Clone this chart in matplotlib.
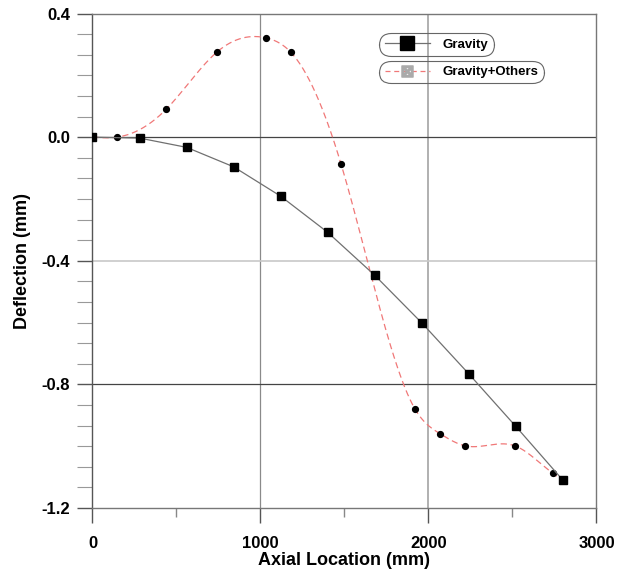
import numpy as np
import matplotlib
matplotlib.use('Agg')
import matplotlib.pyplot as plt
from matplotlib.lines import Line2D
from matplotlib.ticker import MultipleLocator

plt.rcParams['font.family'] = ['Liberation Sans', 'DejaVu Sans']
plt.rcParams['font.weight'] = 'bold'

# deflection along the shaft
x_grav = [0, 280, 560, 840, 1120, 1400, 1680, 1960, 2240, 2520, 2800]
y_grav = [0.0, -0.003, -0.033, -0.096, -0.191, -0.308, -0.447, -0.601, -0.766, -0.936, -1.110]

x_oth = [0, 145, 440, 740, 1035, 1180, 1480, 1920, 2070, 2220, 2515, 2740, 2800]
y_oth = [0.0, 0.0, 0.091, 0.275, 0.321, 0.275, -0.088, -0.880, -0.960, -0.999, -0.999, -1.088, -1.110]

labels = ['Gravity', 'Gravity+Others']


def spline(x, y, n=600):
    # natural cubic spline, only used to draw a smooth line through the points
    x = np.asarray(x, float)
    y = np.asarray(y, float)
    k = len(x)
    h = np.diff(x)
    A = np.zeros((k, k))
    b = np.zeros(k)
    A[0, 0] = A[-1, -1] = 1
    for i in range(1, k - 1):
        A[i, i - 1] = h[i - 1]
        A[i, i] = 2 * (h[i - 1] + h[i])
        A[i, i + 1] = h[i]
        b[i] = 6 * ((y[i + 1] - y[i]) / h[i] - (y[i] - y[i - 1]) / h[i - 1])
    m = np.linalg.solve(A, b)
    xs = np.linspace(x[0], x[-1], n)
    j = np.clip(np.searchsorted(x, xs) - 1, 0, k - 2)
    t0 = xs - x[j]
    t1 = x[j + 1] - xs
    hj = h[j]
    ys = (m[j] * t1 ** 3 + m[j + 1] * t0 ** 3) / (6 * hj) \
        + (y[j] / hj - m[j] * hj / 6) * t1 + (y[j + 1] / hj - m[j + 1] * hj / 6) * t0
    return xs, ys


fig = plt.figure(figsize=(6.22, 5.73), dpi=100)
ax = fig.add_axes([0.1487, 0.1134, 0.8103, 0.863])

# grid lines
ax.axvline(1000, color='#8a8a8a', lw=0.9, zorder=1)
ax.axvline(2000, color='#b0b0b0', lw=1.4, zorder=1)
ax.axhline(0.0, color='#444444', lw=0.9, zorder=1)
ax.axhline(-0.4, color='#c8c8c8', lw=1.2, zorder=1)
ax.axhline(-0.8, color='#444444', lw=0.9, zorder=1)

xs, ys = spline(x_oth, y_oth)
ax.plot(xs, ys, color='#f07878', lw=0.9, ls=(0, (5, 3)), zorder=2)
ax.plot(x_oth, y_oth, 'o', color='black', ms=4.2, zorder=3)

ax.plot(x_grav, y_grav, '-', color='#707070', lw=0.9, zorder=3)
ax.plot(x_grav, y_grav, 's', color='black', ms=5.5, zorder=4)

ax.set_xlim(0, 3000)
ax.set_ylim(-1.2, 0.4)
ax.xaxis.set_major_locator(MultipleLocator(1000))
ax.xaxis.set_minor_locator(MultipleLocator(500))
ax.yaxis.set_major_locator(MultipleLocator(0.4))
ax.yaxis.set_minor_locator(MultipleLocator(0.4 / 6))
ax.set_yticks([0.4, 0.0, -0.4, -0.8, -1.2])
ax.set_yticklabels(['0.4', '0.0', '-0.4', '-0.8', '-1.2'])

for s in ax.spines.values():
    s.set_color('#777777')
    s.set_linewidth(1.0)
ax.spines['left'].set_color('#555555')

ax.tick_params(which='major', axis='x', direction='out', length=11, width=1.0,
               color='#555555', pad=9, labelsize=12)
ax.tick_params(which='minor', axis='x', direction='out', length=6.5, width=1.0,
               color='#888888')
ax.tick_params(which='major', axis='y', direction='out', length=11, width=1.0,
               color='#555555', pad=5, labelsize=12)
ax.tick_params(which='minor', axis='y', direction='out', length=11, width=0.8,
               color='#999999')

ax.set_xlabel('Axial Location (mm)', fontsize=13, fontweight='bold', labelpad=1)
ax.set_ylabel('Deflection (mm)', fontsize=13, fontweight='bold', labelpad=8)

# two separately framed legend entries
h1 = Line2D([], [], color='#707070', lw=0.9, marker='s', ms=10, mfc='black', mec='black')
h2 = Line2D([], [], color='#f07878', lw=0.9, ls=(0, (4, 3)), marker=r'$\boxtimes$',
            ms=8, mfc='#aaaaaa', mec='#aaaaaa')
legs = []
for h, lab, yy in [(h1, labels[0], 0.957), (h2, labels[1], 0.902)]:
    lg = ax.legend([h], [lab], loc='upper left', bbox_to_anchor=(0.572, yy),
                   handlelength=3.4, handletextpad=1.0, borderpad=0.3,
                   borderaxespad=0, prop={'weight': 'bold', 'size': 9.5})
    fr = lg.get_frame()
    fr.set_boxstyle('round,pad=0.1,rounding_size=0.9')
    fr.set_edgecolor('#666666')
    fr.set_linewidth(0.8)
    fr.set_facecolor('none')
    fr.set_alpha(None)
    legs.append(lg)
ax.add_artist(legs[0])

fig.savefig('out.png', dpi=100)
